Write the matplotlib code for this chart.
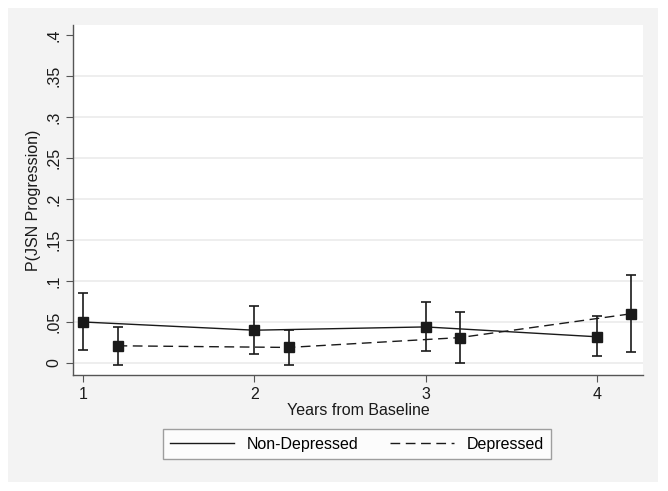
import matplotlib
matplotlib.use("Agg")
import matplotlib.pyplot as plt
from matplotlib.patches import Rectangle
from matplotlib.lines import Line2D

plt.rcParams['font.family'] = ['Liberation Sans', 'DejaVu Sans']

# estimates
years = [1, 2, 3, 4]
offset = 0.2

nondep_p = [0.050, 0.040, 0.044, 0.032]
nondep_lo = [0.016, 0.011, 0.015, 0.008]
nondep_hi = [0.085, 0.069, 0.074, 0.057]

dep_p = [0.021, 0.019, 0.031, 0.060]
dep_lo = [-0.002, -0.003, 0.000, 0.013]
dep_hi = [0.044, 0.040, 0.062, 0.107]

yticks = [0, 0.05, 0.1, 0.15, 0.2, 0.25, 0.3, 0.35, 0.4]
ytick_labels = ['0', '.05', '.1', '.15', '.2', '.25', '.3', '.35', '.4']

fig = plt.figure(figsize=(6.68, 4.91), dpi=100, facecolor='white')
fig.patches.append(Rectangle((8/668, 9/491), 650/668, 474/491,
                             transform=fig.transFigure, facecolor='#f3f3f3',
                             edgecolor='none', zorder=-10))

ax = fig.add_axes([73/668, 116/491, 570/668, 350/491])
ax.set_facecolor('white')

dep_x = [x + offset for x in years]
err_nd = [[p - l for p, l in zip(nondep_p, nondep_lo)],
          [h - p for p, h in zip(nondep_p, nondep_hi)]]
err_d = [[p - l for p, l in zip(dep_p, dep_lo)],
         [h - p for p, h in zip(dep_p, dep_hi)]]

dash = (7, 4)
ax.errorbar(years, nondep_p, yerr=err_nd, color='#1a1a1a', lw=1.0,
            elinewidth=1.2, capsize=3.5, capthick=1.2, marker='s',
            markersize=6.5, zorder=3)
ax.errorbar(dep_x, dep_p, yerr=err_d, color='#1a1a1a', lw=1.0,
            elinewidth=1.2, capsize=3.5, capthick=1.2, marker='s',
            markersize=6.5, dashes=dash, zorder=3)

ax.set_xlim(0.94, 4.27)
ax.set_ylim(-0.0146, 0.412)
ax.set_xticks(years)
ax.set_yticks(yticks)
ax.set_yticklabels(ytick_labels, rotation=90, va='center')
for y in yticks[:-1]:
    ax.axhline(y, color='#ebebeb', lw=1.2, zorder=0)

for s in ['top', 'right']:
    ax.spines[s].set_visible(False)
for s in ['left', 'bottom']:
    ax.spines[s].set_color('#555555')
    ax.spines[s].set_linewidth(1.0)
ax.tick_params(colors='#555555', labelcolor='#1a1a1a', length=5,
               labelsize=11.5)

ax.set_xlabel('Years from Baseline', fontsize=11.5, color='#1a1a1a', labelpad=1)
ax.set_ylabel('P(JSN Progression)', fontsize=11.5, color='#1a1a1a', labelpad=4)

handles = [Line2D([], [], color='#1a1a1a', lw=1.0),
           Line2D([], [], color='#1a1a1a', lw=1.0, dashes=dash)]
labels = ['Non-Depressed', 'Depressed']
leg = fig.legend(handles, labels, loc='center', bbox_to_anchor=(357/668, 47/491),
                 ncol=2, fontsize=11.5, frameon=True, fancybox=False,
                 edgecolor='#888888', handlelength=4.0, columnspacing=2.0,
                 borderpad=0.45, handletextpad=0.8)
leg.get_frame().set_linewidth(1.0)

fig.savefig('out.png', dpi=100, facecolor='white')
